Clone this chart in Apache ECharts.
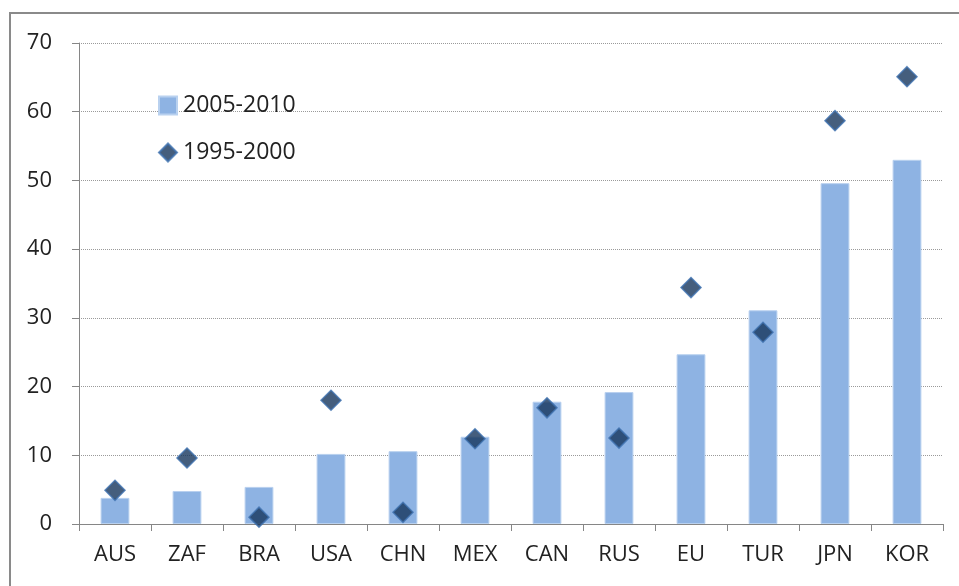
<!DOCTYPE html>
<html>
<head>
<meta charset="utf-8">
<script src="https://cdn.jsdelivr.net/npm/echarts@6/dist/echarts.min.js"></script>
<style>
  html, body { margin: 0; padding: 0; background: #fff; }
  #chart { width: 959px; height: 586px; }
</style>
</head>
<body>
<div id="chart"></div>
<script>
const categories = ['AUS', 'ZAF', 'BRA', 'USA', 'CHN', 'MEX', 'CAN', 'RUS', 'EU', 'TUR', 'JPN', 'KOR']
const recent = [3.8, 4.8, 5.4, 10.2, 10.6, 12.7, 17.8, 19.2, 24.7, 31.1, 49.6, 53.0]
const earlier = [4.9, 9.6, 1.0, 18.0, 1.7, 12.4, 16.9, 12.5, 34.4, 27.9, 58.7, 65.1]

const font = 'Open Sans'
const myChart = echarts.init(document.getElementById('chart'))

myChart.setOption({
  animation: false,
  textStyle: { fontFamily: font },
  graphic: [{
    type: 'rect',
    shape: { x: 10, y: 13, width: 1000, height: 700 },
    style: { fill: 'none', stroke: '#8a8a8a', lineWidth: 2 }
  }],
  legend: {
    orient: 'vertical',
    left: 153,
    top: 89,
    itemGap: 24,
    itemWidth: 18,
    itemHeight: 18,
    textStyle: { fontSize: 23, color: '#222', fontFamily: font, padding: [0, 0, 0, 1] },
    data: [
      { name: '2005-2010', icon: 'rect' },
      { name: '1995-2000', icon: 'diamond' }
    ]
  },
  grid: { left: 79, right: 16, top: 43, bottom: 62 },
  xAxis: {
    type: 'category',
    data: categories,
    axisLine: { lineStyle: { color: '#868686', width: 1 } },
    axisTick: { show: true, length: 7, lineStyle: { color: '#868686' } },
    axisLabel: { fontSize: 22, color: '#222', margin: 20 }
  },
  yAxis: {
    type: 'value',
    min: 0,
    max: 70,
    interval: 10,
    axisLine: { show: true, lineStyle: { color: '#868686' } },
    axisTick: { show: true, length: 7, lineStyle: { color: '#868686' } },
    axisLabel: { fontSize: 22, color: '#222', margin: 27 },
    splitLine: { lineStyle: { color: '#9a9a9a', type: 'dotted', width: 1 } }
  },
  series: [
    {
      name: '2005-2010',
      type: 'bar',
      data: recent,
      barWidth: '40%',
      itemStyle: { color: '#8EB3E3', borderColor: '#B9D1EF', borderWidth: 1 }
    },
    {
      name: '1995-2000',
      type: 'scatter',
      data: earlier,
      symbol: 'diamond',
      symbolSize: 20,
      itemStyle: { color: '#17365D', borderColor: '#3F72B0', borderWidth: 1.5 },
      z: 5
    }
  ]
})
</script>
</body>
</html>
